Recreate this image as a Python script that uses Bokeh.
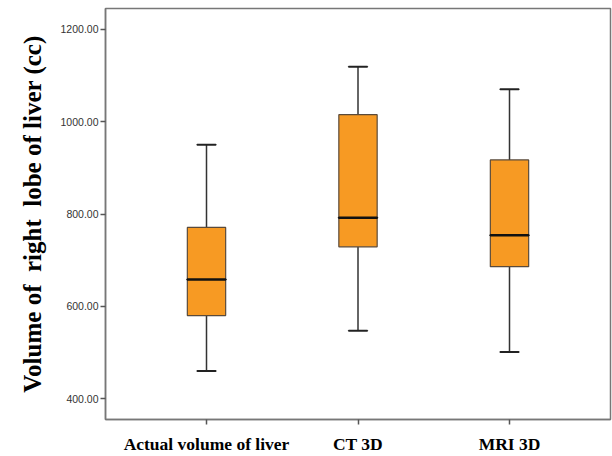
from bokeh.plotting import figure
from bokeh.models import ColumnDataSource, FixedTicker, CustomJSTickFormatter, FactorRange
from bokeh.embed import file_html
from bokeh.resources import INLINE

categories = ["Actual volume of liver", "CT 3D", "MRI 3D"]
mins = [460, 547, 501]
q1s = [580, 729, 686]
medians = [658, 792, 754]
q3s = [771, 1015, 917]
maxs = [950, 1119, 1070]
y_ticks = [400, 600, 800, 1000, 1200]

src = ColumnDataSource(dict(cat=categories, lo=mins, q1=q1s, med=medians, q3=q3s, hi=maxs))

p = figure(width=612, height=456, output_backend="svg", toolbar_location=None,
           x_range=FactorRange(*categories, range_padding=1/6, range_padding_units="absolute"),
           y_range=(355, 1245),
           min_border_left=105, min_border_right=2, min_border_top=8, min_border_bottom=35)
p.background_fill_color = "white"
p.border_fill_color = "white"
p.grid.visible = False
p.outline_line_color = "#777777"
p.outline_line_width = 1.5

# whiskers
p.segment(x0="cat", y0="hi", x1="cat", y1="q3", source=src, line_color="#333333", line_width=1.5)
p.segment(x0="cat", y0="q1", x1="cat", y1="lo", source=src, line_color="#333333", line_width=1.5)
p.rect(x="cat", y="hi", width=0.123, height=0.01, source=src, line_color="#222222", line_width=2, fill_alpha=0)
p.rect(x="cat", y="lo", width=0.123, height=0.01, source=src, line_color="#222222", line_width=2, fill_alpha=0)
# boxes
p.vbar(x="cat", top="q3", bottom="q1", width=0.253, source=src,
       fill_color="#F79A23", line_color="#5a4a3a", line_width=1.2)
# medians
p.rect(x="cat", y="med", width=0.253, height=0.01, source=src, line_color="#111111", line_width=2.5, fill_alpha=0)

p.yaxis.ticker = FixedTicker(ticks=y_ticks)
p.yaxis.formatter = CustomJSTickFormatter(code="return tick.toFixed(2);")
p.yaxis.axis_label = "Volume of\u00a0 right\u00a0 lobe of liver (cc)"
p.yaxis.axis_label_text_font = "Liberation Serif"
p.yaxis.axis_label_text_font_style = "bold"
p.yaxis.axis_label_text_font_size = "25px"
p.yaxis.axis_label_text_color = "black"
p.yaxis.axis_label_standoff = 12
p.yaxis.major_label_text_font = "Liberation Sans"
p.yaxis.major_label_text_font_size = "10.5px"
p.yaxis.major_label_text_color = "#333333"
p.yaxis.major_label_standoff = 2
p.yaxis.minor_tick_line_color = None

for ax in (p.xaxis, p.yaxis):
    ax.axis_line_color = "#777777"
    ax.axis_line_width = 1.5
    ax.major_tick_line_color = "#555555"
    ax.major_tick_line_width = 1.5
    ax.major_tick_out = 5
    ax.major_tick_in = 0

p.xaxis.major_label_text_font = "Liberation Serif"
p.xaxis.major_label_text_font_style = "bold"
p.xaxis.major_label_text_font_size = "17.5px"
p.xaxis.major_label_text_color = "black"
p.xaxis.major_label_standoff = 9

open("out.html", "w").write(file_html(p, INLINE))
